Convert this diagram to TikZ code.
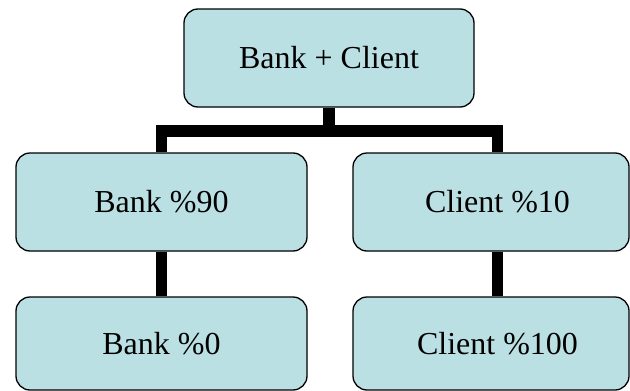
\documentclass[tikz,border=0pt]{standalone}
\usepackage{fontspec}
\setmainfont{Liberation Serif}
\begin{document}
\begin{tikzpicture}[x=1pt,y=-1pt,
  box/.style={draw=black, line width=1.3pt, fill=boxfill, rounded corners=14pt,
    inner sep=0pt, font=\fontsize{32}{38}\selectfont},
  conn/.style={draw=black, line width=11.5pt, line join=miter, line cap=butt}]
\definecolor{boxfill}{HTML}{BBE0E3}
\useasboundingbox (0,0) rectangle (630,391);
\node[box, minimum width=290pt, minimum height=98pt] (top) at (329,58) {Bank + Client};
\node[box, minimum width=291pt, minimum height=98pt] (lm) at (161.5,202) {Bank \%90};
\node[box, minimum width=276pt, minimum height=98pt] (rm) at (491,202) {\hspace*{13pt}Client \%10};
\node[box, minimum width=291pt, minimum height=93pt] (lb) at (161.5,343.5) {Bank \%0};
\node[box, minimum width=276pt, minimum height=93pt] (rb) at (491,343.5) {\hspace*{13pt}Client \%100};
\coordinate (j) at (329,131);
\coordinate (rmt) at ([xshift=6.5pt]rm.north);
\coordinate (rms) at ([xshift=6.5pt]rm.south);
\coordinate (rbt) at ([xshift=6.5pt]rb.north);
\draw[conn] (top.south) -- (j);
\draw[conn] (lm.north) |- (j) -| (rmt);
\draw[conn] (lm.south) -- (lb.north);
\draw[conn] (rms) -- (rbt);
\end{tikzpicture}
\end{document}
